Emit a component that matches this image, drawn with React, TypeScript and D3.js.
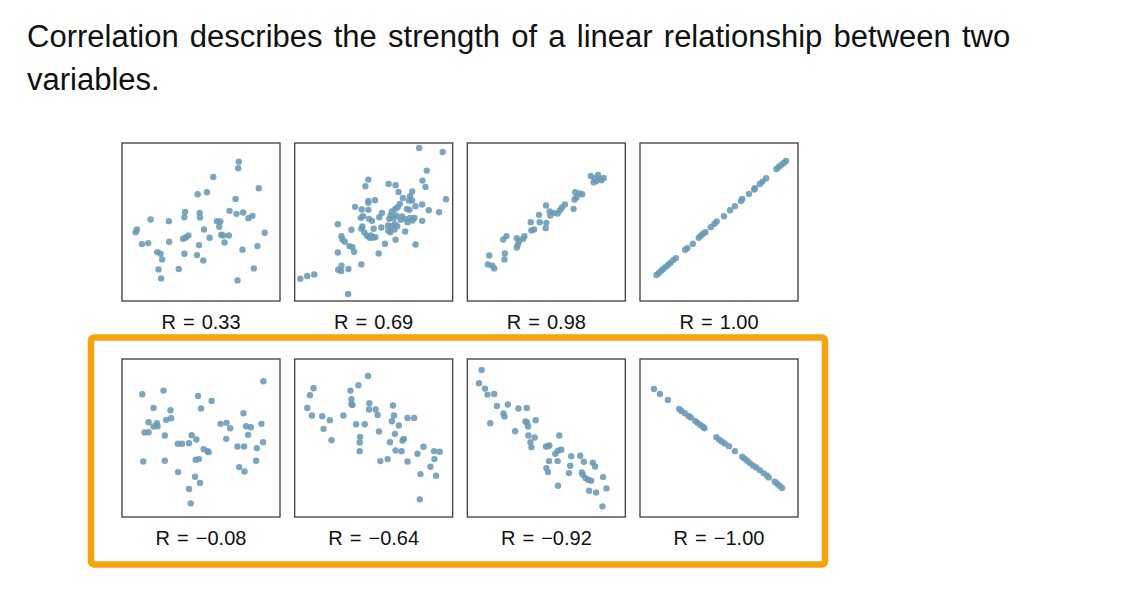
import React from "react";
import * as d3 from "d3";

// values, arbitrary units (x right, y up)
const r033: [number, number][] = [
  [364, 432], [362, 412], [287, 386], [424, 352], [240, 334], [268, 340], [354, 320], [336, 284], [357, 275], [377, 279],
  [393, 262], [405, 269], [202, 281], [200, 265], [246, 278], [247, 264], [98, 258], [153, 253], [298, 253], [308, 252],
  [305, 236], [57, 228], [53, 220], [259, 228], [442, 218], [212, 210], [204, 204], [196, 200], [276, 203], [311, 212],
  [317, 210], [334, 210], [321, 189], [72, 184], [91, 187], [154, 191], [244, 181], [420, 178], [375, 167], [118, 160],
  [128, 155], [200, 155], [238, 151], [133, 138], [257, 135], [122, 108], [183, 109], [409, 111], [130, 81], [360, 75],
];
const r069: [number, number][] = [
  [387, 473], [458, 461], [410, 405], [397, 375], [406, 356], [234, 378], [225, 358], [295, 365], [316, 361], [325, 341],
  [366, 342], [360, 328], [468, 319], [234, 314], [234, 308], [254, 316], [194, 296], [338, 323], [356, 315], [366, 315],
  [329, 305], [322, 295], [315, 290], [305, 282], [350, 290], [358, 287], [376, 298], [396, 303], [416, 286], [447, 280],
  [214, 288], [234, 287], [275, 278], [218, 268], [211, 263], [236, 260], [245, 254], [267, 265], [301, 270], [297, 260],
  [310, 262], [318, 270], [335, 267], [345, 260], [360, 263], [373, 263], [367, 255], [352, 250], [331, 257], [396, 254],
  [142, 244], [183, 227], [216, 237], [213, 230], [250, 230], [273, 234], [293, 240], [302, 238], [313, 244], [321, 238],
  [294, 225], [300, 220], [313, 228], [345, 222], [222, 219], [230, 209], [238, 203], [247, 203], [255, 205], [242, 210],
  [153, 208], [156, 198], [163, 191], [177, 178], [186, 175], [191, 161], [142, 159], [284, 185], [316, 197], [376, 183],
  [265, 156], [213, 123], [153, 119], [143, 107], [152, 103], [174, 109], [29, 80], [50, 88], [71, 93], [173, 34],
];
const r098: [number, number][] = [
  [384, 389], [406, 392], [396, 382], [412, 380], [423, 383], [392, 370], [400, 373], [416, 376], [337, 340], [351, 336],
  [358, 334], [341, 325], [335, 318], [332, 290], [306, 303], [297, 294], [291, 286], [284, 276], [272, 278], [260, 282],
  [262, 270], [249, 300], [228, 272], [250, 248], [248, 232], [230, 250], [203, 250], [213, 228], [205, 225], [184, 208],
  [180, 200], [161, 202], [168, 193], [164, 182], [161, 174], [130, 208], [120, 198], [125, 156], [124, 138], [78, 150],
  [74, 123], [87, 119], [93, 111],
];
const r100: [number, number][] = [
  [452, 434], [445, 428], [437, 422], [430, 416], [423, 410], [392, 382], [381, 372], [373, 365], [358, 352], [356, 348],
  [340, 335], [320, 320], [316, 314], [298, 298], [283, 286], [265, 268], [243, 252], [236, 245], [225, 235], [209, 220],
  [202, 215], [195, 209], [189, 203], [171, 185], [155, 172], [148, 167], [120, 142], [112, 136], [104, 128], [97, 122],
  [90, 116], [82, 109], [76, 104], [69, 97], [62, 91],
];
const rm008: [number, number][] = [
  [438, 421], [73, 382], [137, 393], [241, 377], [282, 362], [107, 341], [158, 334], [250, 339], [378, 325], [145, 305],
  [160, 310], [92, 298], [117, 295], [107, 285], [119, 286], [80, 267], [92, 268], [141, 258], [309, 293], [327, 296],
  [338, 280], [386, 286], [400, 283], [432, 293], [392, 260], [326, 248], [222, 259], [236, 246], [180, 233], [193, 233],
  [214, 235], [258, 217], [270, 211], [273, 208], [360, 225], [380, 225], [418, 220], [437, 238], [76, 180], [141, 182],
  [234, 185], [244, 187], [416, 182], [365, 163], [381, 150], [181, 148], [232, 134], [247, 115], [214, 97], [219, 54],
];
const rm064: [number, number][] = [
  [233, 437], [204, 409], [69, 400], [180, 393], [58, 379], [183, 367], [183, 352], [186, 350], [237, 355], [50, 341],
  [64, 318], [95, 316], [118, 304], [159, 318], [236, 336], [256, 336], [262, 320], [308, 348], [311, 318], [305, 301],
  [352, 311], [372, 311], [197, 292], [223, 292], [326, 288], [99, 278], [266, 270], [314, 263], [209, 254], [208, 237],
  [341, 248], [337, 243], [299, 238], [123, 244], [208, 211], [316, 213], [334, 211], [400, 224], [382, 203], [432, 211],
  [449, 209], [433, 187], [270, 181], [292, 187], [352, 180], [421, 164], [391, 142], [438, 137], [389, 66],
];
const rm092: [number, number][] = [
  [55, 455], [47, 415], [65, 399], [73, 381], [93, 383], [101, 347], [134, 351], [166, 339], [191, 341], [121, 324],
  [124, 315], [81, 295], [187, 300], [192, 297], [195, 285], [218, 304], [156, 271], [196, 258], [215, 252], [202, 238],
  [205, 223], [249, 225], [255, 226], [259, 228], [289, 258], [295, 215], [285, 212], [277, 203], [325, 196], [352, 197],
  [363, 179], [258, 181], [284, 181], [322, 167], [390, 176], [397, 165], [250, 160], [255, 148], [318, 145], [357, 147],
  [360, 140], [368, 130], [376, 125], [385, 122], [421, 133], [431, 99], [379, 92], [400, 87], [285, 107], [419, 45],
];
const rm100: [number, number][] = [
  [54, 398], [72, 383], [96, 365], [130, 338], [137, 332], [147, 325], [158, 317], [165, 312], [178, 302], [185, 296],
  [193, 290], [201, 285], [206, 280], [242, 253], [250, 246], [258, 240], [267, 234], [280, 226], [298, 211], [320, 194],
  [327, 188], [335, 182], [343, 175], [352, 168], [362, 162], [373, 154], [384, 145], [394, 138], [400, 132], [418, 119],
  [425, 114], [432, 107], [440, 100],
];

const panelData = [r033, r069, r098, r100, rm008, rm064, rm092, rm100];
const panelLabels = ["R = 0.33", "R = 0.69", "R = 0.98", "R = 1.00", "R = −0.08", "R = −0.64", "R = −0.92", "R = −1.00"];
const titleLines = [
  "Correlation describes the strength of a linear relationship between two",
  "variables.",
];

const W = 1143;
const H = 597;
const size = 158;
const font = "'Liberation Sans', Arial, Helvetica, sans-serif";

export default function App() {
  const col = d3.scaleBand<number>().domain([0, 1, 2, 3]).range([122, 798]).paddingInner(0.085);
  const row = d3.scaleOrdinal<number, number>().domain([0, 1]).range([143, 359]);
  const x = d3.scaleLinear().domain([12, 488]).range([0, size]);
  const y = d3.scaleLinear().domain([13, 488]).range([size, 0]);

  return (
    <svg width={W} height={H} style={{ position: "absolute", left: 0, top: 0, background: "#fff" }}>
      {titleLines.map((t, i) => (
        <text key={i} x={27} y={47 + i * 43} fontSize={31} wordSpacing={2.6} fontFamily={font} fill="#111">
          {t}
        </text>
      ))}
      <rect x={91} y={337.5} width={734} height={227} rx={3} fill="none" stroke="#F5A30F" strokeWidth={6.5} />
      {panelData.map((pts, i) => {
        const cx = col(i % 4)!;
        const cy = row(Math.floor(i / 4));
        return (
          <g key={i} transform={`translate(${cx},${cy})`}>
            <rect width={size} height={size} fill="#fff" stroke="#4a4a4a" strokeWidth={1.4} />
            {pts.map((p, j) => (
              <circle key={j} cx={x(p[0])} cy={y(p[1])} r={3.2} fill="#6A9AB5" fillOpacity={0.88} />
            ))}
            <text x={size / 2} y={size + 28} textAnchor="middle" fontSize={20} wordSpacing={1.5} fontFamily={font} fill="#111">
              {panelLabels[i]}
            </text>
          </g>
        );
      })}
    </svg>
  );
}
